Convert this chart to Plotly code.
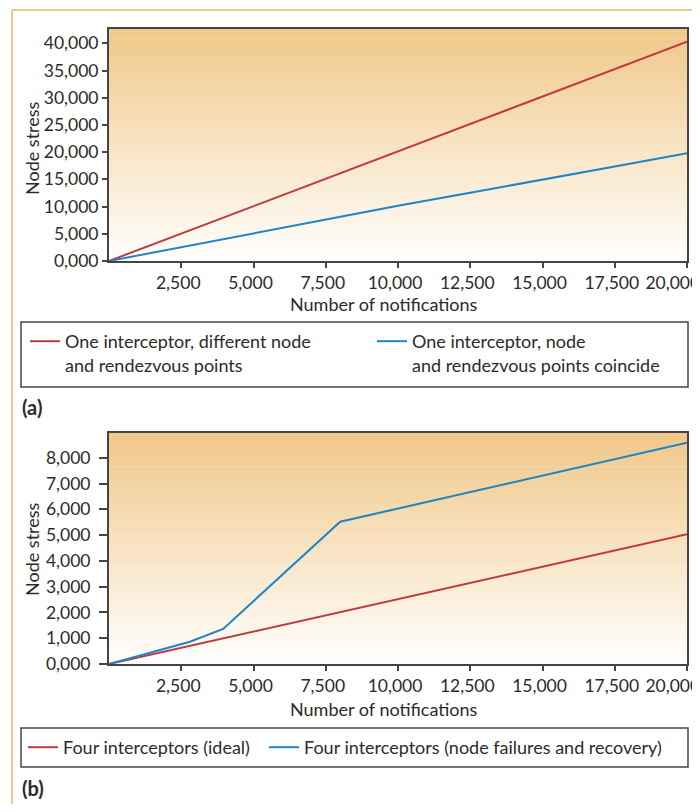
import plotly.graph_objects as go

# ---------------- data ----------------
# Panel (a)
notif_a = [0, 2500, 5000, 7500, 10000, 12500, 15000, 17500, 20000]
stress_a_diff = [0, 5050, 10100, 15150, 20200, 25200, 30200, 35250, 40300]
stress_a_coinc = [0, 2550, 5050, 7600, 10150, 12550, 14900, 17350, 19800]
name_a_diff = "One interceptor, different node<br>and rendezvous points"
name_a_coinc = "One interceptor, node<br>and rendezvous points coincide"

# Panel (b)
notif_b_ideal = [0, 20000]
stress_b_ideal = [0, 5030]
notif_b_fail = [0, 2800, 3950, 8000, 20000]
stress_b_fail = [0, 865, 1360, 5520, 8585]
name_b_ideal = "Four interceptors (ideal)"
name_b_fail = "Four interceptors (node failures and recovery)"

# ticks and titles
x_tickvals = [2500, 5000, 7500, 10000, 12500, 15000, 17500, 20000]
x_ticktext = ["2,500", "5,000", "7,500", "10,000", "12,500", "15,000", "17,500",
              "20,000" + "&nbsp;" * 5]
ya_tickvals = [0, 5000, 10000, 15000, 20000, 25000, 30000, 35000, 40000]
ya_ticktext = ["0,000", "5,000", "10,000", "15,000", "20,000", "25,000", "30,000", "35,000", "40,000"]
yb_tickvals = [0, 1000, 2000, 3000, 4000, 5000, 6000, 7000, 8000]
yb_ticktext = ["0,000", "1,000", "2,000", "3,000", "4,000", "5,000", "6,000", "7,000", "8,000"]
x_title = "Number of notifications"
y_title = "Node stress"
panel_labels = ["(a)", "(b)"]

# ---------------- style ----------------
OFF = 8  # page body margin
W, H = 700 - OFF, 812 - 2 * OFF
FONT = "Lato, 'Open Sans', sans-serif"
FS = 18
TFS = 17.5
TXT = "#2b2b2b"
RED = "#c0393f"
BLUE = "#1f84c6"
AXC = "#454545"
TOP = (240, 200, 136)
BOT = (255, 254, 252)


def px(x):
    return (x - OFF) / W


def py(y):
    return 1 - (y - OFF) / H


fig = go.Figure()
fig.add_trace(go.Scatter(x=notif_a, y=stress_a_diff, mode="lines", name=name_a_diff,
                         line=dict(color=RED, width=2), xaxis="x", yaxis="y", legend="legend"))
fig.add_trace(go.Scatter(x=notif_a, y=stress_a_coinc, mode="lines", name=name_a_coinc,
                         line=dict(color=BLUE, width=2), xaxis="x", yaxis="y", legend="legend3"))
fig.add_trace(go.Scatter(x=notif_b_ideal, y=stress_b_ideal, mode="lines", name=name_b_ideal,
                         line=dict(color=RED, width=2), xaxis="x2", yaxis="y2", legend="legend2"))
fig.add_trace(go.Scatter(x=notif_b_fail, y=stress_b_fail, mode="lines", name=name_b_fail,
                         line=dict(color=BLUE, width=2), xaxis="x2", yaxis="y2", legend="legend4"))

tfont = dict(size=FS, color=TXT, family=FONT)
tickfont = dict(size=TFS, color=TXT, family=FONT)
common_x = dict(range=[0, 20000], tickvals=x_tickvals, ticktext=x_ticktext,
                showgrid=False, zeroline=False, showline=True, linecolor=AXC, linewidth=2,
                mirror=True, ticks="outside", ticklen=5, tickwidth=1.5, tickcolor=AXC,
                tickfont=tickfont, automargin=False, ticklabeloverflow="allow",
                ticklabelshift=-3, tickangle=0)
common_y = dict(showgrid=False, zeroline=False, showline=True, linecolor=AXC, linewidth=2,
                mirror=True, ticks="outside", tickwidth=1.5, tickcolor=AXC,
                tickfont=tickfont, automargin=False, ticklabeloverflow="allow")


def leg(x, y):
    return dict(orientation="v", x=px(x), y=py(y), xanchor="left", yanchor="top",
                bgcolor="rgba(0,0,0,0)", borderwidth=0, valign="top",
                font=tfont, itemwidth=30)


xdom = [px(109), px(687)]
fig.update_layout(
    width=W, height=H,
    margin=dict(l=0, r=0, t=0, b=0),
    paper_bgcolor="white", plot_bgcolor="white",
    font=dict(family=FONT, color=TXT, size=FS),
    xaxis=dict(domain=xdom, anchor="y", **common_x),
    yaxis=dict(domain=[py(261), py(29.3)], anchor="x", range=[0, 42570], ticklen=5,
               tickvals=ya_tickvals, ticktext=ya_ticktext, **common_y),
    xaxis2=dict(domain=xdom, anchor="y2", **common_x),
    yaxis2=dict(domain=[py(664), py(433.3)], anchor="x2", range=[0, 8950], ticklen=8,
                ticklabelstandoff=5,
                tickvals=yb_tickvals, ticktext=yb_ticktext, **common_y),
    legend=leg(25, 323),
    legend3=leg(372, 323),
    legend2=leg(23, 729),
    legend4=leg(264, 729),
    showlegend=True,
)

shapes = []
# gradient background bands
N = 90
for ax in ["", "2"]:
    for i in range(N):
        t = i / (N - 1)
        c = tuple(round(BOT[k] + (TOP[k] - BOT[k]) * t) for k in range(3))
        shapes.append(dict(type="rect", xref=f"x{ax} domain", yref=f"y{ax} domain",
                           x0=0, x1=1, y0=i / N, y1=(i + 1) / N + 0.002,
                           fillcolor=f"rgb{c}", line=dict(width=0), layer="below"))
# legend boxes
for (y0, y1) in [(322, 387), (728, 767)]:
    shapes.append(dict(type="rect", xref="paper", yref="paper", x0=px(21), x1=px(688),
                       y0=py(y1), y1=py(y0), line=dict(color=AXC, width=1.5),
                       fillcolor="rgba(0,0,0,0)"))
# outer tan frame (top and left)
shapes.append(dict(type="line", xref="paper", yref="paper", x0=px(12), x1=1, y0=py(10), y1=py(10),
                   line=dict(color="#ebcb8b", width=2)))
shapes.append(dict(type="line", xref="paper", yref="paper", x0=px(12), x1=px(12), y0=py(10), y1=0,
                   line=dict(color="#ebcb8b", width=2)))
fig.update_layout(shapes=shapes)

# axis titles
for yc in [148, 549]:
    fig.add_annotation(text=y_title, xref="paper", yref="paper", x=px(32), y=py(yc),
                       xanchor="center", yanchor="middle", textangle=-90, showarrow=False,
                       font=tfont)
for yc in [304, 709]:
    fig.add_annotation(text=x_title, xref="paper", yref="paper", x=px(384), y=py(yc),
                       xanchor="center", yanchor="middle", showarrow=False, font=tfont)

# panel labels
for lab, yc in zip(panel_labels, [407, 788]):
    fig.add_annotation(text=f"<b>{lab}</b>", xref="paper", yref="paper", x=px(20), y=py(yc),
                       xanchor="left", yanchor="middle", showarrow=False,
                       font=dict(size=20, color=TXT, family=FONT))

fig.write_html("out.html")
